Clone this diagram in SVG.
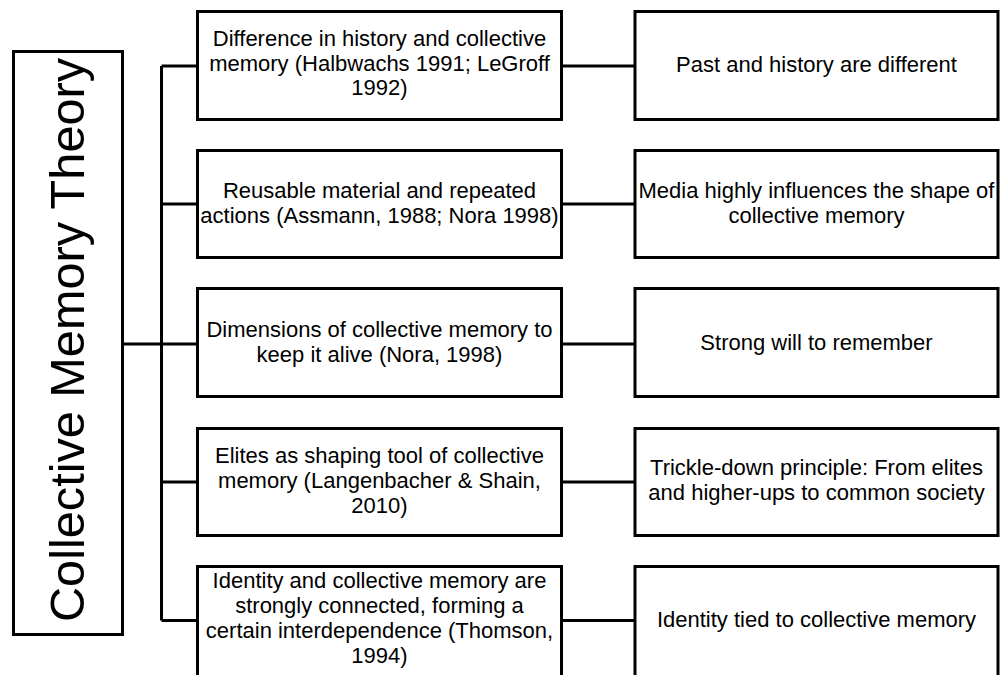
<svg xmlns="http://www.w3.org/2000/svg" width="1002" height="675" viewBox="0 0 1002 675">
<style>
.box{fill:#fff;stroke:#000;stroke-width:3}
.ln{fill:none;stroke:#000;stroke-width:3}
.t{font-family:"Liberation Sans",Arial,sans-serif;font-size:22px;fill:#000;text-anchor:middle}
.title{font-family:"Liberation Sans",Arial,sans-serif;font-size:48px;fill:#000;text-anchor:middle}
</style>
<rect width="1002" height="675" fill="#fff"/>
<g id="connectors">
<path class="ln" d="M124 344H197M161.5 66V620.5M161.5 66H197M161.5 204H197M161.5 482H197M161.5 620.5H197"/>
<path class="ln" d="M561.5 66H635M561.5 204H635M561.5 344H635M561.5 482H635M561.5 620.5H635"/>
</g>
<g id="root">
<rect class="box" x="13.5" y="51.5" width="109" height="583"/>
<text class="title" transform="translate(84,340) rotate(-90)" textLength="564" lengthAdjust="spacingAndGlyphs">Collective Memory Theory</text>
</g>
<g id="n1">
<rect class="box" x="197.5" y="11.5" width="364" height="108"/>
<text class="t" x="379.5" y="46">Difference in history and collective</text>
<text class="t" x="379.5" y="70.5">memory (Halbwachs 1991; LeGroff</text>
<text class="t" x="379.5" y="95">1992)</text>
</g>
<g id="n2">
<rect class="box" x="197.5" y="150.5" width="364" height="107"/>
<text class="t" x="379.5" y="197.5">Reusable material and repeated</text>
<text class="t" x="379.5" y="222.5">actions (Assmann, 1988; Nora 1998)</text>
</g>
<g id="n3">
<rect class="box" x="197.5" y="288.5" width="364" height="108"/>
<text class="t" x="379.5" y="337.3">Dimensions of collective memory to</text>
<text class="t" x="379.5" y="362.3">keep it alive (Nora, 1998)</text>
</g>
<g id="n4">
<rect class="box" x="197.5" y="428.5" width="364" height="107"/>
<text class="t" x="379.5" y="463.3">Elites as shaping tool of collective</text>
<text class="t" x="379.5" y="488.3">memory (Langenbacher &amp; Shain,</text>
<text class="t" x="379.5" y="513.3">2010)</text>
</g>
<g id="n5">
<rect class="box" x="197.5" y="566.5" width="364" height="112"/>
<text class="t" x="379.5" y="588.3">Identity and collective memory are</text>
<text class="t" x="379.5" y="613.3">strongly connected, forming a</text>
<text class="t" x="379.5" y="638.3">certain interdependence (Thomson,</text>
<text class="t" x="379.5" y="663.3">1994)</text>
</g>
<g id="r1">
<rect class="box" x="635" y="11.5" width="363" height="108"/>
<text class="t" x="816.5" y="71.7">Past and history are different</text>
</g>
<g id="r2">
<rect class="box" x="635" y="150.5" width="363" height="107"/>
<text class="t" x="816.5" y="197.5">Media highly influences the shape of</text>
<text class="t" x="816.5" y="222.5">collective memory</text>
</g>
<g id="r3">
<rect class="box" x="635" y="288.5" width="363" height="108"/>
<text class="t" x="816.5" y="350">Strong will to remember</text>
</g>
<g id="r4">
<rect class="box" x="635" y="428.5" width="363" height="107"/>
<text class="t" x="816.5" y="475">Trickle-down principle: From elites</text>
<text class="t" x="816.5" y="500">and higher-ups to common society</text>
</g>
<g id="r5">
<rect class="box" x="635" y="566.5" width="363" height="112"/>
<text class="t" x="816.5" y="627">Identity tied to collective memory</text>
</g>
</svg>
